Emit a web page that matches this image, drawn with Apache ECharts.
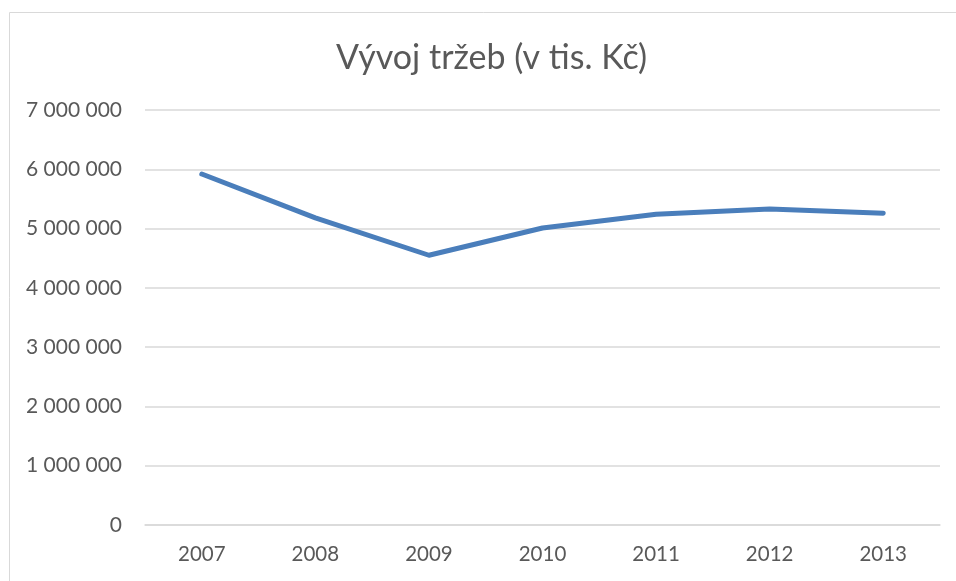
<!DOCTYPE html>
<html>
<head>
<meta charset="UTF-8">
<title>Vývoj tržeb</title>
<script src="https://cdn.jsdelivr.net/npm/echarts@6/dist/echarts.min.js"></script>
<style>
	html, body { margin: 0; padding: 0; background: #fff; }
	#main { width: 956px; height: 581px; }
</style>
</head>
<body>
<div id="main"></div>
<script type="text/javascript">
	// data
	var years = ['2007', '2008', '2009', '2010', '2011', '2012', '2013'];
	var revenue = [5920000, 5180000, 4550000, 5010000, 5240000, 5330000, 5260000];
	var yTicks = [0, 1000000, 2000000, 3000000, 4000000, 5000000, 6000000, 7000000];

	function fmt(v) {
		return String(v).replace(/\B(?=(\d{3})+(?!\d))/g, ' ');
	}

	var echart = echarts.init(document.getElementById('main'));

	var option = {
		animation: false,
		title: {
			text: 'Vývoj tržeb (v tis. Kč)',
			left: 331,
			top: 36,
			textStyle: {
				fontFamily: 'Lato',
				fontSize: 34,
				fontWeight: 'normal',
				color: '#595959'
			}
		},
		graphic: [{
			type: 'rect',
			shape: { x: 9.5, y: 12.5, width: 1200, height: 1000 },
			style: { fill: 'none', stroke: '#d9d9d9', lineWidth: 1 },
			silent: true
		}],
		grid: {
			left: 145,
			right: 16,
			top: 110,
			bottom: 56
		},
		xAxis: {
			type: 'category',
			data: years,
			boundaryGap: true,
			axisLine: { lineStyle: { color: '#d9d9d9', width: 1.5 } },
			axisTick: { show: false },
			axisLabel: {
				margin: 19,
				fontFamily: 'Lato',
				fontSize: 20.5,
				color: '#595959'
			}
		},
		yAxis: {
			type: 'value',
			min: yTicks[0],
			max: yTicks[yTicks.length - 1],
			interval: 1000000,
			axisLine: { show: false },
			axisTick: { show: false },
			splitLine: { lineStyle: { color: '#d9d9d9', width: 1.5 } },
			axisLabel: {
				margin: 23,
				fontFamily: 'Lato',
				fontSize: 21,
				color: '#595959',
				formatter: fmt
			}
		},
		series: [{
			type: 'line',
			data: revenue,
			symbol: 'none',
			lineStyle: { color: '#4a7ebb', width: 5, cap: 'round', join: 'round' }
		}]
	};

	echart.setOption(option, true);
</script>
</body>
</html>
